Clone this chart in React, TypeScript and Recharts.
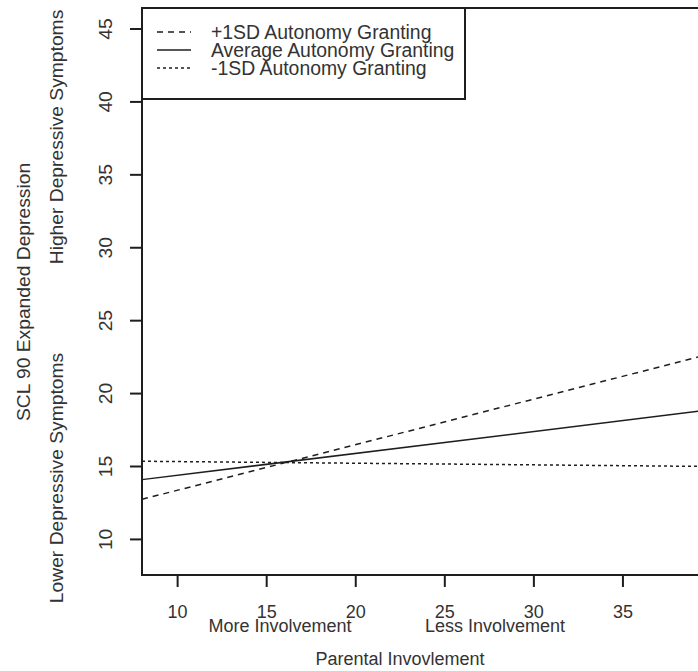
import React from "react";
import {
  Customized,
  Legend,
  Line,
  LineChart,
  ReferenceArea,
  XAxis,
  YAxis,
} from "recharts";

const involvement = [8, 40];
const plusOneSD = [12.75, 22.75];
const averageAG = [14.1, 18.9];
const minusOneSD = [15.36, 15.0];

const xTicks = [10, 15, 20, 25, 30, 35];
const yTicks = [10, 15, 20, 25, 30, 35, 40, 45];

const seriesNames = [
  "+1SD Autonomy Granting",
  "Average Autonomy Granting",
  "-1SD Autonomy Granting",
];

const rows = involvement.map((x, i) => ({
  x,
  plus: plusOneSD[i],
  avg: averageAG[i],
  minus: minusOneSD[i],
}));

const FONT = "'Liberation Sans', Arial, sans-serif";
const INK = "#1e1e1e";
const TEXT = "#333";

const dashes: Record<string, string | undefined> = {
  [seriesNames[0]]: "6 5",
  [seriesNames[1]]: undefined,
  [seriesNames[2]]: "3 3",
};

// vertical text, a little stretched along its length like the source image
function VText(props: { x: number; y: number; children: React.ReactNode }) {
  return (
    <text
      transform={`translate(${props.x},${props.y}) rotate(-90) scale(1.07,1)`}
      textAnchor="middle"
      fontSize={18}
      fill={TEXT}
      fontFamily={FONT}
    >
      {props.children}
    </text>
  );
}

function XTick(props: any) {
  const { x, payload } = props;
  return (
    <text x={x} y={618} textAnchor="middle" fontSize={18} fill={TEXT} fontFamily={FONT}>
      {payload.value}
    </text>
  );
}

function YTick(props: any) {
  const { y, payload } = props;
  return (
    <VText x={112} y={y}>
      {payload.value}
    </VText>
  );
}

function LegendBox(props: any) {
  const items = [...(props.payload || [])].sort(
    (a: any, b: any) => seriesNames.indexOf(a.value) - seriesNames.indexOf(b.value)
  );
  return (
    <svg width={326} height={94} style={{ display: "block" }}>
      <rect x={1} y={1} width={323} height={91} fill="#fff" stroke={INK} strokeWidth={2} />
      {items.map((entry: any, i: number) => {
        const cy = 26 + i * 18;
        return (
          <g key={entry.value}>
            <line
              x1={16}
              x2={50}
              y1={cy - 1}
              y2={cy - 1}
              stroke={INK}
              strokeWidth={1.5}
              strokeDasharray={dashes[entry.value]}
            />
            <text x={70} y={cy + 6} fontSize={19.4} fill={TEXT} fontFamily={FONT}>
              {entry.value}
            </text>
          </g>
        );
      })}
    </svg>
  );
}

function Annotations() {
  const common = { fontSize: 18, fill: TEXT, fontFamily: FONT, textAnchor: "middle" as const };
  return (
    <g>
      <VText x={30} y={292}>SCL 90 Expanded Depression</VText>
      <VText x={63} y={137}>Higher Depressive Symptoms</VText>
      <VText x={63} y={478}>Lower Depressive Symptoms</VText>
      <text x={280} y={632} {...common}>
        More Involvement
      </text>
      <text x={495} y={632} {...common}>
        Less Involvement
      </text>
      <text x={400} y={665} {...common}>
        Parental Invovlement
      </text>
    </g>
  );
}

export default function App() {
  return (
    <div
      style={{
        position: "absolute",
        left: 0,
        top: 0,
        width: 698,
        height: 671,
        overflow: "hidden",
        background: "#fff",
      }}
    >
      <LineChart
        width={720}
        height={671}
        data={rows}
        margin={{ top: 8, right: 8, bottom: 66, left: 82 }}
      >
        <ReferenceArea
          x1={8}
          x2={40}
          y1={7.56}
          y2={46.44}
          fill="none"
          stroke={INK}
          strokeWidth={2}
        />
        <XAxis
          type="number"
          dataKey="x"
          domain={[8, 40]}
          ticks={xTicks}
          height={30}
          tickSize={12}
          tickLine={{ stroke: INK, strokeWidth: 2 }}
          axisLine={{ stroke: INK, strokeWidth: 2 }}
          tick={<XTick />}
          interval={0}
        />
        <YAxis
          type="number"
          domain={[7.56, 46.44]}
          ticks={yTicks}
          width={60}
          tickSize={12}
          tickLine={{ stroke: INK, strokeWidth: 2 }}
          axisLine={{ stroke: INK, strokeWidth: 2 }}
          tick={<YTick />}
          interval={0}
        />
        <Line
          dataKey="plus"
          name={seriesNames[0]}
          stroke={INK}
          strokeWidth={1.5}
          strokeDasharray="6 5"
          dot={false}
          isAnimationActive={false}
        />
        <Line
          dataKey="avg"
          name={seriesNames[1]}
          stroke={INK}
          strokeWidth={1.5}
          dot={false}
          isAnimationActive={false}
        />
        <Line
          dataKey="minus"
          name={seriesNames[2]}
          stroke={INK}
          strokeWidth={1.5}
          strokeDasharray="3 3"
          dot={false}
          isAnimationActive={false}
        />
        <Legend
          layout="horizontal"
          verticalAlign="middle"
          align="center"
          content={<LegendBox />}
          wrapperStyle={{ left: 141, top: 7, width: 326, height: 94 }}
        />
        <Customized component={Annotations} />
      </LineChart>
    </div>
  );
}
